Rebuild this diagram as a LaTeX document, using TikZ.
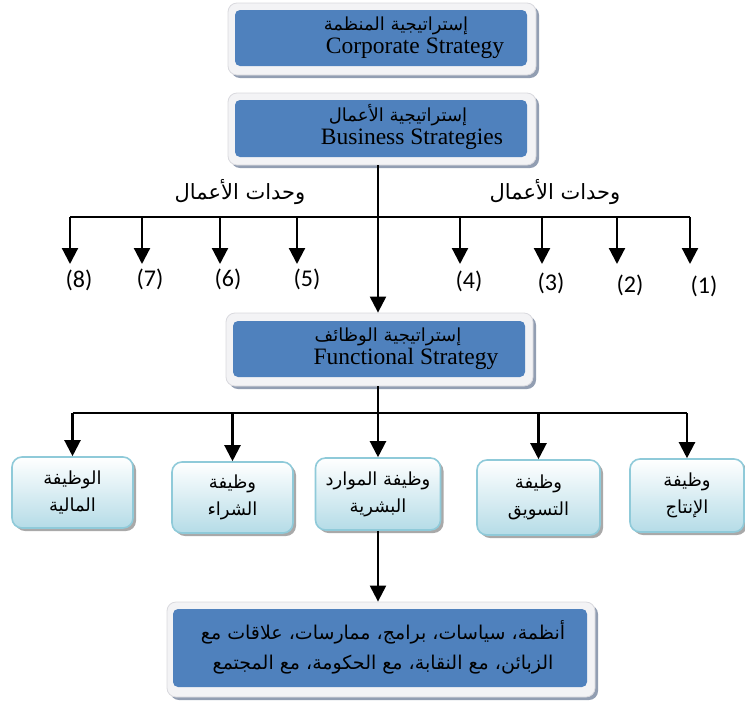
\documentclass[tikz,border=0pt]{standalone}
\usepackage{fontspec}
\TeXXeTstate=1
\setmainfont{Liberation Serif}
\newfontfamily\arabicfont[Script=Arabic]{DejaVu Sans}
\newfontfamily\numfont{Carlito}
\usetikzlibrary{arrows.meta,shadows}

\newcommand{\artext}[1]{{\arabicfont\beginR #1\endR}}

\definecolor{boxblue}{HTML}{4F81BD}
\definecolor{framefill}{HTML}{F3F3F5}
\definecolor{framedraw}{HTML}{D9D9DE}
\definecolor{frameshadow}{HTML}{929EB2}
\definecolor{funcborder}{HTML}{8FCAD9}
\definecolor{funcbottom}{HTML}{B5DCE7}
\definecolor{funcshadow}{HTML}{A9A9A9}

\tikzset{
  frame/.style={draw=framedraw, line width=0.8pt, fill=framefill, rounded corners=9pt,
    general shadow={fill=frameshadow, shadow xshift=3pt, shadow yshift=-3pt}},
  core/.style={fill=boxblue, draw=none, rounded corners=5pt},
  artitle/.style={inner sep=0pt, text=black, font=\fontsize{18}{22}\selectfont},
  entitle/.style={inner sep=0pt, text=black, font=\fontsize{23.5}{26}\selectfont},
  funcbox/.style={draw=funcborder, line width=1.6pt, rounded corners=10pt,
    top color=white, bottom color=funcbottom, align=center, inner sep=0pt,
    font=\fontsize{18}{27}\selectfont,
    general shadow={fill=funcshadow, shadow xshift=3pt, shadow yshift=-3pt}},
  wire/.style={line width=2.2pt},
  link/.style={line width=2.2pt, -{Triangle[length=16pt,width=16pt]}},
  unitnum/.style={font=\numfont\fontsize{24}{26}\selectfont, inner sep=0pt},
}

\begin{document}
\begin{tikzpicture}[x=1pt,y=-1pt]
\useasboundingbox (0,0) rectangle (745,702);

% ---- corporate level ----
\node[frame, minimum width=308pt, minimum height=72pt] (corp) at (382,39) {};
\node[core, minimum width=292pt, minimum height=56pt] (corpcore) at (381,38) {};
\node[artitle] (corpar) at (396,26) {\artext{إستراتيجية المنظمة}};
\node[entitle] (corpen) at (415,48) {Corporate Strategy};

% ---- business level ----
\node[frame, minimum width=308pt, minimum height=72pt] (bus) at (382,129) {};
\node[core, minimum width=292pt, minimum height=57pt] (buscore) at (381,128.5) {};
\node[artitle] (busar) at (398,115) {\artext{إستراتيجية الأعمال}};
\node[entitle] (busen) at (412,139) {Business Strategies};

% ---- functional level ----
\node[frame, minimum width=307pt, minimum height=73pt] (func) at (379.5,349.5) {};
\node[core, minimum width=292pt, minimum height=56pt] (funccore) at (379,349) {};
\node[artitle] (funcar) at (388,337) {\artext{إستراتيجية الوظائف}};
\node[entitle] (funcen) at (406,359) {Functional Strategy};

% ---- business units ----
\coordinate (axis) at (378,0);
\node[artitle, font=\fontsize{21}{24}\selectfont] (unitsL) at (240,192) {\artext{وحدات الأعمال}};
\node[artitle, font=\fontsize{21}{24}\selectfont] (unitsR) at (555,192) {\artext{وحدات الأعمال}};

\coordinate (barL) at (70,217);
\coordinate (barR) at (690,217);
\draw[wire] (barL) -- (barR);
\draw[link] (axis |- bus.south) -- (axis |- func.north);

\foreach \k/\x/\lx/\ly in {1/690/704/286, 2/617/630/285, 3/542/551/283, 4/460/469/281,
                           5/297/307/279, 6/220/228/279, 7/142/150/279, 8/70/79/280}{
  \coordinate (top\k) at (\x,217);
  \coordinate (tip\k) at (\x,264);
  \draw[link] (top\k) -- (tip\k);
  \node[unitnum] (unit\k) at (\lx,\ly) {(\k)};
}

% ---- functions ----
\node[funcbox, minimum width=121pt, minimum height=71pt] (fin) at (72.5,492.5)
  {\artext{الوظيفة}\\\artext{المالية}};
\node[funcbox, minimum width=121pt, minimum height=71pt] (buy) at (232.5,497.5)
  {\artext{وظيفة}\\\artext{الشراء}};
\node[funcbox, minimum width=125pt, minimum height=72pt] (hr) at (378,494)
  {\artext{وظيفة الموارد}\\\artext{البشرية}};
\node[funcbox, minimum width=123pt, minimum height=75pt] (mkt) at (538.5,497.5)
  {\artext{وظيفة}\\\artext{التسويق}};
\node[funcbox, minimum width=114pt, minimum height=73pt] (prod) at (687,495.5)
  {\artext{وظيفة}\\\artext{الإنتاج}};

\coordinate (fbar) at (378,413);
\draw[wire] (axis |- func.south) -- (fbar);
\draw[wire] (fin.north |- fbar) -- (prod.north |- fbar);
\foreach \f in {fin,buy,hr,mkt,prod}{
  \draw[link] (\f.north |- fbar) -- (\f.north);
}

% ---- practices ----
\node[frame, minimum width=428pt, minimum height=95pt] (prac) at (381,649.5) {};
\node[core, minimum width=414pt, minimum height=78pt] (praccore) at (380,648) {};
\node[artitle, align=center, font=\fontsize{19}{30}\selectfont] (practxt) at (383,647)
  {\artext{أنظمة، سياسات، برامج، ممارسات، علاقات مع}\\
   \artext{الزبائن، مع النقابة، مع الحكومة، مع المجتمع}};

\draw[link] (hr.south) -- (hr.south |- prac.north);
\end{tikzpicture}
\end{document}
